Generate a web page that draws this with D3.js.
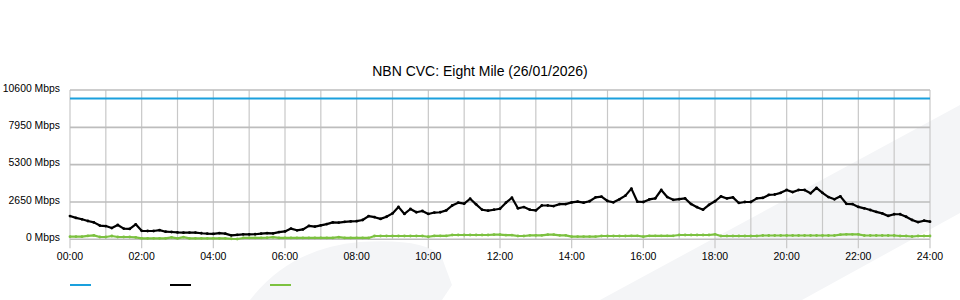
<!DOCTYPE html>
<html lang="en">
<head>
    <meta charset="UTF-8">
    <title>NBN CVC: Eight Mile</title>
    <script src="https://d3js.org/d3.v7.min.js"></script>
    <style>
        body { margin: 0; background: #fff; }
        text { font-family: "Liberation Sans", Arial, sans-serif; fill: #000; }
    </style>
</head>
<body>
<div id="chart"></div>

<script>
    const title = "NBN CVC: Eight Mile (26/01/2026)";

    // y axis ticks (Mbps)
    const yTicks = [0, 2650, 5300, 7950, 10600];
    // x axis labels, every two hours
    const xTicks = [0, 2, 4, 6, 8, 10, 12, 14, 16, 18, 20, 22, 24];

    // samples every 10 minutes, 00:00 .. 24:00
    const minutes = d3.range(0, 1441, 10);

    // CVC capacity
    const capacity = 10000;

    // traffic in Mbps (black)
    const download = [
        1650, 1520, 1420, 1300, 1200, 975, 940, 800, 1015, 760,
        740, 1065, 600, 590, 590, 650, 540, 520, 490, 470,
        480, 480, 430, 400, 380, 440, 400, 280, 320, 350,
        350, 360, 400, 440, 420, 510, 560, 760, 640, 700,
        950, 900, 990, 1080, 1200, 1190, 1240, 1270, 1290, 1370,
        1650, 1570, 1450, 1600, 1840, 2300, 1800, 2150, 1920, 2010,
        1800, 1900, 1920, 2050, 2400, 2600, 2530, 2880, 2480, 2100,
        2030, 2100, 2170, 2600, 2950, 2200, 2290, 2100, 2050, 2400,
        2400, 2360, 2500, 2500, 2620, 2680, 2600, 2700, 2980, 3025,
        2720, 2625, 2840, 3100, 3600, 2670, 2650, 2830, 2900, 3500,
        3000, 2800, 2850, 2900, 2500, 2280, 2100, 2450, 2700, 3050,
        2900, 2980, 2580, 2650, 2650, 2910, 2940, 3150, 3180, 3300,
        3500, 3350, 3500, 3500, 3265, 3650, 3300, 3000, 2840, 3050,
        2520, 2500, 2300, 2200, 2080, 1950, 1840, 1660, 1780, 1780,
        1600, 1370, 1220, 1320, 1250
    ];

    // traffic in Mbps (green)
    const upload = [
        185, 185, 185, 240, 280, 165, 165, 235, 165, 165,
        165, 140, 70, 70, 70, 70, 70, 140, 70, 150,
        70, 70, 70, 70, 70, 70, 70, 40, 20, 95,
        95, 95, 95, 110, 150, 95, 95, 95, 95, 95,
        95, 95, 95, 95, 95, 150, 95, 95, 95, 95,
        95, 235, 235, 235, 235, 235, 235, 235, 235, 235,
        180, 240, 240, 240, 305, 305, 305, 305, 305, 305,
        305, 330, 330, 300, 300, 235, 235, 280, 280, 280,
        330, 330, 280, 280, 190, 190, 190, 190, 190, 235,
        235, 235, 235, 235, 250, 250, 195, 250, 250, 250,
        250, 250, 305, 305, 305, 305, 305, 305, 355, 235,
        235, 235, 235, 235, 235, 235, 270, 270, 270, 270,
        270, 270, 270, 270, 270, 270, 270, 270, 270, 330,
        355, 355, 355, 270, 270, 270, 270, 270, 270, 235,
        235, 200, 235, 235, 235
    ];

    const colors = {capacity: "#1aa0dd", download: "#000000", upload: "#7cc140"};

    const width = 960, height = 300;
    const margin = {left: 70, right: 30, top: 90, bottom: 60.7};

    let svg = d3.select("#chart")
        .append("svg")
        .attr("width", width)
        .attr("height", height);

    // faint watermark shapes behind the plot
    let wm = svg.append("g").attr("fill", "#f4f5f7");
    wm.append("path").attr("d", "M600,300 L960,105 L960,213 L802,300 Z");
    wm.append("path").attr("d", "M250,300 Q290,248 360,242 Q428,238 442,258 L452,285 L442,300 Z");

    let x = d3.scaleLinear().domain([0, 1440]).range([margin.left, width - margin.right]);
    let y = d3.scaleLinear().domain([0, 10600]).range([height - margin.bottom, margin.top]);

    // vertical grid, every hour; ticks below the axis on even hours
    svg.append("g").selectAll("line")
        .data(d3.range(0, 25))
        .join("line")
        .attr("x1", d => x(d * 60))
        .attr("x2", d => x(d * 60))
        .attr("y1", y(10600))
        .attr("y2", d => d % 2 === 0 ? y(0) + 9 : y(0))
        .attr("stroke", "#c8c8c8")
        .attr("stroke-width", 1.2);

    // horizontal grid
    svg.append("g").selectAll("line")
        .data(yTicks)
        .join("line")
        .attr("x1", x(0))
        .attr("x2", x(1440))
        .attr("y1", d => y(d))
        .attr("y2", d => y(d))
        .attr("stroke", "#bdbdbd")
        .attr("stroke-width", 1.6);

    // y labels
    svg.append("g").selectAll("text")
        .data(yTicks)
        .join("text")
        .attr("x", 60)
        .attr("y", d => y(d) + 1.6)
        .attr("text-anchor", "end")
        .style("font-size", "10.4px")
        .text(d => d + " Mbps");

    // x labels
    svg.append("g").selectAll("text")
        .data(xTicks)
        .join("text")
        .attr("x", d => x(d * 60))
        .attr("y", 260)
        .attr("text-anchor", "middle")
        .style("font-size", "10.5px")
        .text(d => d3.format("02")(d) + ":00");

    // title
    svg.append("text")
        .attr("x", 480)
        .attr("y", 76)
        .attr("text-anchor", "middle")
        .style("font-size", "14px")
        .text(title);

    let line = d3.line()
        .x(d => x(d[0]))
        .y(d => y(d[1]));

    const series = [
        {key: "capacity", values: minutes.map(m => [m, capacity]), dots: false},
        {key: "upload", values: minutes.map((m, i) => [m, upload[i]]), dots: true},
        {key: "download", values: minutes.map((m, i) => [m, download[i]]), dots: true}
    ];

    series.forEach(s => {
        svg.append("path")
            .datum(s.values)
            .attr("d", line)
            .attr("fill", "none")
            .attr("stroke", colors[s.key])
            .attr("stroke-width", s.dots ? 2.2 : 2)
            .attr("stroke-linejoin", "round");
        if (s.dots) {
            svg.append("g").selectAll("circle")
                .data(s.values)
                .join("circle")
                .attr("cx", d => x(d[0]))
                .attr("cy", d => y(d[1]))
                .attr("r", 1.4)
                .attr("fill", colors[s.key]);
        }
    });

    // legend swatches (labels are empty in the original)
    const legendKeys = ["capacity", "download", "upload"];
    svg.append("g").selectAll("line")
        .data(legendKeys)
        .join("line")
        .attr("x1", (d, i) => 70 + i * 100)
        .attr("x2", (d, i) => 91 + i * 100)
        .attr("y1", 285)
        .attr("y2", 285)
        .attr("stroke", d => colors[d])
        .attr("stroke-width", 2);
</script>
</body>
</html>
